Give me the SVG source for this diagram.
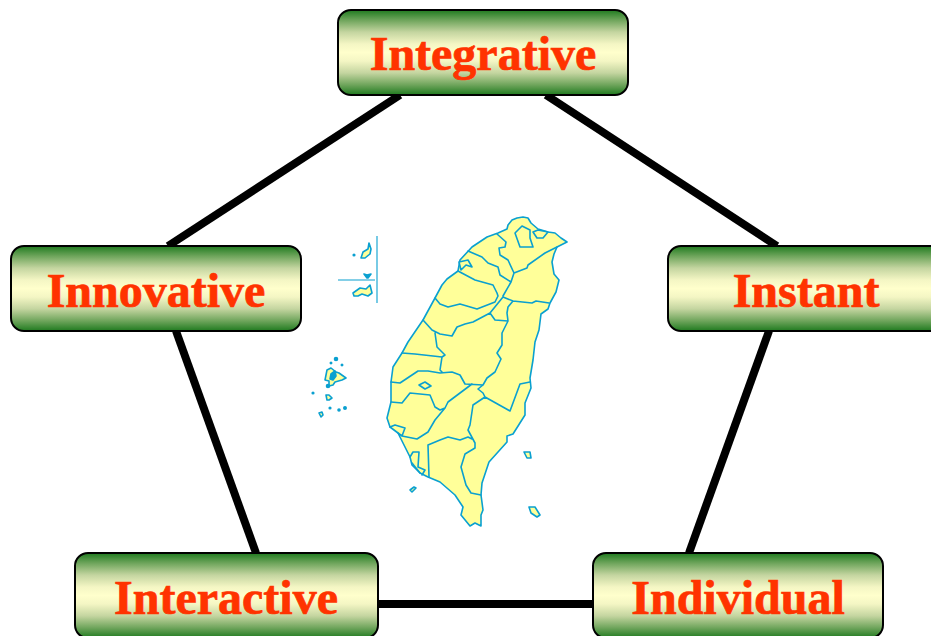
<svg xmlns="http://www.w3.org/2000/svg" width="931" height="636" viewBox="0 0 931 636">
<style>
.box{fill:url(#g);stroke:#000;stroke-width:2}
.t{font-family:"Liberation Serif","Times New Roman",serif;font-weight:bold;font-size:48px;fill:#ff3300;stroke:#ff3300;stroke-width:0.7;text-anchor:middle}
.c{stroke:#000;stroke-width:8;fill:none}
.m{fill:#ffff99;stroke:#0aa0d0;stroke-width:1.6;stroke-linejoin:round}
.b{fill:none;stroke:#0aa0d0;stroke-width:1.6;stroke-linejoin:round;stroke-linecap:round}
.l{fill:none;stroke:#0aa0d0;stroke-width:1.1}
.d{fill:#0aa0d0;stroke:#0aa0d0;stroke-width:1.6;stroke-linejoin:round}
</style>
<defs>
<linearGradient id="g" x1="0" y1="0" x2="0" y2="1">
<stop offset="0" stop-color="#1f7a1f"/>
<stop offset="0.12" stop-color="#6fa55c"/>
<stop offset="0.26" stop-color="#c4d5a0"/>
<stop offset="0.4" stop-color="#f4f6c4"/>
<stop offset="0.5" stop-color="#ffffcc"/>
<stop offset="0.6" stop-color="#f4f6c4"/>
<stop offset="0.74" stop-color="#c4d5a0"/>
<stop offset="0.88" stop-color="#6fa55c"/>
<stop offset="1" stop-color="#1f7a1f"/>
</linearGradient>
</defs>
<rect width="931" height="636" fill="#fff"/>
<g id="connectors">
<line class="c" x1="400" y1="95" x2="168" y2="246"/>
<line class="c" x1="546" y1="95" x2="777" y2="246"/>
<line class="c" x1="176" y1="331" x2="256" y2="553"/>
<line class="c" x1="769" y1="331" x2="689" y2="553"/>
<line class="c" x1="378" y1="604" x2="593" y2="604"/>
</g>
<g id="map">
<path class="m" d="M508 225L512 220L517 218L523 217L528 218L531 223L538 229L548 232L555 233L561 238L567 242L557 247L554 254L552 262L554 274L559 280L556 292L550 303L548 309L541 314L539 330L535 342L533 360L530 378L531 388L525 403L525 415L513 434L507 436L507 442L489 462L482 483L481 495L483 510L481 515L481 526L475 523L470 526L461 515L463 507L455 495L440 482L428 477L420 473L412 465L410 457L398 433L390 427L387 418L391 402L391 382L393 367L402 353L408 342L423 320L435 298L442 285L447 279L458 271L460 260L472 247L487 237L498 233L507 229Z"/>
<path class="b" d="M497 234L506 242L505 247L499 248L500 255L508 260L514 273M557 247L545 253L528 265L527 268L514 273L511 282L503 296M468 251L482 257L488 263L498 267L500 275L511 282M458 271L475 280L493 285L497 293L498 296L495 302L477 309L460 304L448 307L440 304L435 298M503 297L513 301L532 303L536 301L549 303M513 301L508 307L507 313L508 321L502 333L502 345L497 353L501 359L495 372L487 378L483 385M503 297L490 313L495 320L508 321M490 313L473 322L465 324L457 327L452 336L440 334L432 330L423 320M435 333L437 347L445 355L442 357L415 354L402 353M442 357L440 370L442 372M391 382L400 383L418 371L428 371L440 373L452 372L460 375L465 384L483 385L478 389L483 393L485 397L510 411L520 384L530 382M485 397L473 405L470 425L468 430L475 443L475 448L465 454L461 467L466 485L471 493L481 495M472 384L460 393L448 402L445 408L435 420L428 432L417 439L402 436L398 433M391 402L402 403L410 393L430 395L435 407L440 410L445 408M428 445L440 440L448 437L460 440L468 437L472 439M428 445L429 477M410 457L413 452L419 452L418 467L425 470L422 475M412 463L420 473M390 427L395 425L405 428L402 436"/>
<path class="m" d="M419 385L425 382L431 386L425 389Z"/>
<path class="m" d="M459 262L468 260L472 267L466 265L461 270Z"/>
<path class="m" d="M515 233L522 226L530 230L530 238L533 247L520 247Z"/>
<path class="m" d="M533 232L538 230L548 232L543 238L537 238Z"/>
<path class="l" d="M377 236V303M338 280H375"/>
<path class="m" d="M353 293L360 288L366 289L370 285L372 293L368 296L362 294L358 296L354 296Z"/>
<path class="d" d="M364 274L367 275L371 274L368 278L367 278Z"/>
<path class="m" d="M361 258L363 252L368 249L369 243L371 249L370 254L365 258Z"/>
<circle class="d" cx="354" cy="255" r="0.8"/>
<path class="m" d="M325 380L327 370L331 368L336 372L339 373L346 378L342 380L335 382L333 385L329 386L329 381Z"/>
<path class="d" d="M331 374L335 371L336 376L333 380L330 379Z"/>
<circle class="d" cx="336" cy="359" r="1.5"/>
<circle class="d" cx="331" cy="363" r="0.7"/>
<circle class="d" cx="342" cy="365" r="0.7"/>
<circle class="d" cx="328" cy="386" r="1.5"/>
<path class="m" d="M326 395L329 395L332 398L329 400L327 400Z"/>
<path class="m" d="M319 413L322 412L323 415L321 417Z"/>
<circle class="d" cx="345" cy="408" r="1.2"/>
<circle class="d" cx="339" cy="410" r="1"/>
<circle class="d" cx="330" cy="408" r="0.8"/>
<circle class="d" cx="313" cy="393" r="0.8"/>
<path class="m" d="M410 490L414 487L416 488L412 492Z"/>
<path class="m" d="M524 452L530 452L531 458L527 458Z"/>
<path class="m" d="M529 507L535 507L540 515L537 517L531 513Z"/>
</g>
<g id="integrative"><rect class="box" x="338" y="10" width="290" height="85" rx="13"/><text class="t" x="483" y="70">Integrative</text></g>
<g id="innovative"><rect class="box" x="11" y="246" width="290" height="85" rx="13"/><text class="t" x="156" y="307">Innovative</text></g>
<g id="instant"><rect class="box" x="668" y="246" width="290" height="85" rx="13"/><text class="t" x="806" y="307">Instant</text></g>
<g id="interactive"><rect class="box" x="75" y="553" width="303" height="85" rx="13"/><text class="t" x="226" y="614">Interactive</text></g>
<g id="individual"><rect class="box" x="593" y="553" width="290" height="85" rx="13"/><text class="t" x="738" y="614">Individual</text></g>
</svg>
